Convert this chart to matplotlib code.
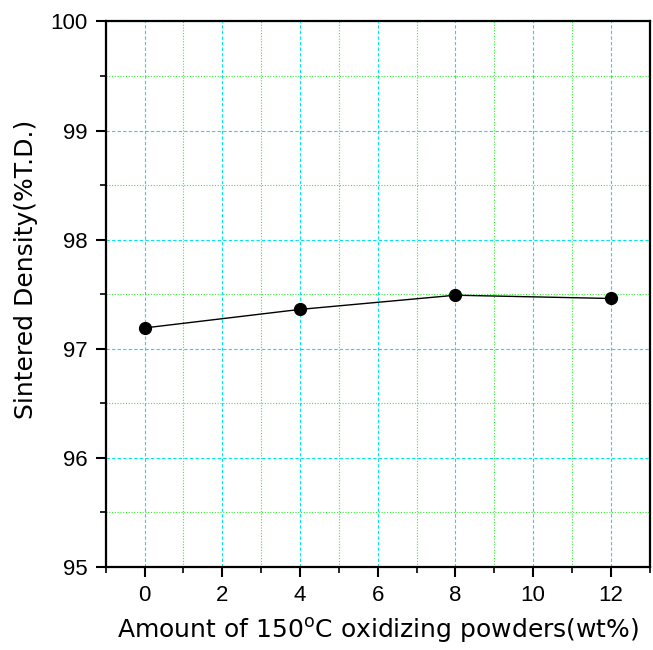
import matplotlib
matplotlib.use("Agg")
import matplotlib.pyplot as plt
from matplotlib.ticker import MultipleLocator

# wt% of oxidized powder vs. sintered density
amount = [0, 4, 8, 12]
density = [97.19, 97.36, 97.49, 97.46]

plt.rcParams['font.family'] = ['Liberation Sans', 'DejaVu Sans']
plt.rcParams['mathtext.fontset'] = 'custom'
plt.rcParams['mathtext.rm'] = 'DejaVu Sans'

fig = plt.figure(figsize=(6.53, 6.5), dpi=100)
ax = fig.add_axes([0.162, 0.128, 0.833, 0.839])

ax.plot(amount, density, color="black", linewidth=1, marker="o",
        markersize=8.5, zorder=3)

ax.set_xlim(-1, 13)
ax.set_ylim(95, 100)
ax.xaxis.set_major_locator(MultipleLocator(2))
ax.xaxis.set_minor_locator(MultipleLocator(1))
ax.yaxis.set_major_locator(MultipleLocator(1))
ax.yaxis.set_minor_locator(MultipleLocator(0.5))

# grid: cyan dashed for major, green dotted for minor
ax.grid(which="major", color="#00e5ee", linestyle=(0, (3, 2)), linewidth=0.8)
ax.grid(which="minor", color="#33ee33", linestyle=(0, (1, 1.5)), linewidth=0.8)
ax.set_axisbelow(True)

ax.tick_params(which="major", direction="out", length=7, width=1.5,
               labelsize=16, pad=6)
ax.tick_params(which="minor", direction="out", length=4, width=1.2)
for s in ax.spines.values():
    s.set_linewidth(1.6)

lab_font = dict(family=['DejaVu Sans'], fontsize=18)
ax.set_xlabel(r"Amount of 150$^\mathrm{o}$C oxidizing powders(wt%)",
              labelpad=7, **lab_font)
ax.set_ylabel("Sintered Density(%T.D.)", **lab_font)
ax.yaxis.set_label_coords(-0.125, 0.545)

plt.savefig("out.png", dpi=100)
